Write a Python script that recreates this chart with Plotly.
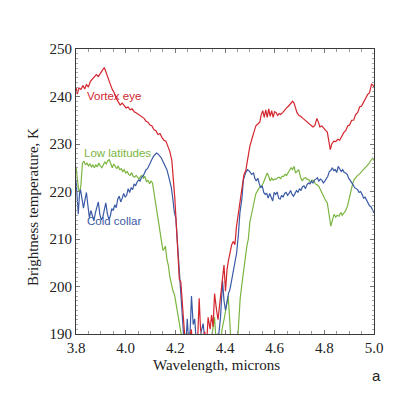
import plotly.graph_objects as go

# ---------------- data ----------------
vortex_x = [3.800, 3.805, 3.812, 3.820, 3.828, 3.835, 3.842, 3.850, 3.858, 3.866, 3.874, 3.882, 3.890, 3.898,
            3.906, 3.914, 3.922, 3.930, 3.938, 3.946, 3.954, 3.962, 3.970, 3.978, 3.986, 3.994, 4.002, 4.010,
            4.018, 4.026, 4.034, 4.042, 4.050, 4.058, 4.066, 4.074, 4.082, 4.090, 4.098, 4.106, 4.114, 4.122,
            4.130, 4.138, 4.146, 4.154, 4.162, 4.170, 4.178, 4.186, 4.192, 4.198, 4.204, 4.210, 4.216, 4.222,
            4.228, 4.234, 4.240, 4.248, 4.256, 4.264, 4.272, 4.280, 4.288, 4.296, 4.304, 4.312, 4.318, 4.326,
            4.332, 4.340, 4.346, 4.352, 4.358, 4.366, 4.372, 4.378, 4.384, 4.390, 4.396, 4.402, 4.408, 4.414,
            4.420, 4.427, 4.434, 4.440, 4.446, 4.452, 4.460, 4.468, 4.476, 4.484, 4.492, 4.500, 4.508, 4.516,
            4.524, 4.532, 4.540, 4.546, 4.552, 4.558, 4.564, 4.570, 4.576, 4.582, 4.588, 4.594, 4.600, 4.606,
            4.612, 4.618, 4.624, 4.632, 4.640, 4.648, 4.656, 4.664, 4.672, 4.678, 4.684, 4.690, 4.698, 4.706,
            4.714, 4.722, 4.730, 4.738, 4.746, 4.754, 4.762, 4.770, 4.776, 4.782, 4.790, 4.798, 4.806, 4.812,
            4.818, 4.824, 4.830, 4.838, 4.846, 4.854, 4.862, 4.870, 4.878, 4.886, 4.894, 4.902, 4.910, 4.918,
            4.926, 4.934, 4.942, 4.950, 4.958, 4.966, 4.974, 4.982, 4.990, 4.996, 5.000]
vortex_t = [242.0, 240.5, 241.8, 241.5, 242.3, 241.6, 242.5, 242.0, 243.2, 243.6, 244.0, 244.6, 244.2, 245.0,
            245.5, 246.1, 244.8, 243.5, 242.6, 241.5, 240.8, 239.6, 239.0, 238.2, 238.6, 238.2, 237.6, 237.8,
            237.2, 237.4, 236.8, 236.6, 236.3, 236.0, 235.8, 235.4, 234.8, 234.6, 234.0, 233.8, 233.0, 232.8,
            232.0, 232.2, 231.4, 230.8, 230.6, 229.6, 228.4, 226.5, 223.0, 218.5, 213.0, 207.0, 201.5, 201.0,
            195.5, 192.0, 188.0, 186.5, 188.0, 191.0, 187.0, 189.0, 186.0, 197.5, 188.0, 186.0, 190.5, 188.0,
            193.5, 191.0, 194.0, 191.5, 198.5, 195.0, 193.0, 196.0, 199.0, 202.5, 204.5, 199.0, 203.5, 205.5,
            207.0, 208.8, 209.5, 208.8, 212.5, 214.8, 218.5, 220.5, 223.5, 224.5, 227.5, 229.5, 231.0, 232.5,
            233.8, 234.2, 234.6, 236.2, 237.0, 235.6, 237.2, 235.6, 237.4, 235.8, 237.0, 235.6, 236.8, 236.6,
            236.0, 236.4, 236.2, 236.6, 237.2, 237.6, 238.0, 238.4, 239.0, 238.6, 237.8, 236.6, 236.0, 235.8,
            235.4, 235.0, 234.8, 234.2, 234.0, 233.6, 233.9, 235.4, 234.6, 233.6, 233.8, 233.2, 232.8, 232.5,
            230.5, 228.8, 230.0, 230.6, 230.5, 231.0, 230.8, 231.8, 232.4, 232.8, 233.8, 234.0, 235.0, 235.0,
            236.2, 236.6, 237.8, 238.0, 238.8, 239.6, 240.4, 240.8, 242.6, 242.4, 241.8]

collar_x = [3.800, 3.805, 3.809, 3.814, 3.818, 3.824, 3.830, 3.836, 3.842, 3.848, 3.854, 3.860, 3.866, 3.872,
            3.878, 3.884, 3.890, 3.896, 3.902, 3.908, 3.914, 3.920, 3.926, 3.932, 3.938, 3.944, 3.950, 3.956,
            3.962, 3.968, 3.974, 3.980, 3.986, 3.992, 3.998, 4.004, 4.010, 4.016, 4.022, 4.028, 4.034, 4.040,
            4.046, 4.052, 4.058, 4.064, 4.070, 4.076, 4.082, 4.088, 4.094, 4.100, 4.106, 4.112, 4.118, 4.124,
            4.130, 4.136, 4.142, 4.148, 4.154, 4.160, 4.166, 4.172, 4.178, 4.184, 4.190, 4.196, 4.202, 4.208,
            4.214, 4.220, 4.226, 4.232, 4.238, 4.244, 4.248, 4.254, 4.260, 4.265, 4.272, 4.278, 4.284, 4.290,
            4.296, 4.304, 4.312, 4.318, 4.326, 4.334, 4.342, 4.350, 4.358, 4.366, 4.374, 4.382, 4.390, 4.396,
            4.402, 4.408, 4.414, 4.420, 4.427, 4.434, 4.440, 4.447, 4.454, 4.460, 4.468, 4.474, 4.482, 4.490,
            4.496, 4.502, 4.508, 4.515, 4.520, 4.526, 4.532, 4.538, 4.544, 4.550, 4.556, 4.562, 4.568, 4.574,
            4.580, 4.586, 4.592, 4.598, 4.604, 4.610, 4.616, 4.622, 4.628, 4.634, 4.640, 4.646, 4.652, 4.658,
            4.664, 4.670, 4.676, 4.682, 4.688, 4.694, 4.700, 4.706, 4.712, 4.718, 4.724, 4.730, 4.736, 4.742,
            4.748, 4.754, 4.760, 4.766, 4.772, 4.778, 4.784, 4.790, 4.796, 4.802, 4.808, 4.814, 4.820, 4.826,
            4.832, 4.838, 4.844, 4.850, 4.856, 4.862, 4.868, 4.874, 4.880, 4.886, 4.892, 4.898, 4.904, 4.910,
            4.916, 4.922, 4.928, 4.934, 4.940, 4.946, 4.952, 4.958, 4.964, 4.970, 4.976, 4.982, 4.988, 4.994,
            5.000]
collar_t = [222.5, 218.0, 215.2, 219.5, 220.4, 218.5, 216.5, 218.2, 219.8, 217.0, 214.5, 216.0, 215.0, 213.8,
            215.5, 216.8, 217.8, 215.2, 214.0, 214.6, 216.5, 217.6, 215.4, 214.2, 214.8, 216.4, 216.0, 217.2,
            216.6, 218.4, 219.0, 217.8, 218.6, 219.6, 218.8, 219.2, 220.6, 219.8, 220.8, 220.4, 221.6, 221.2,
            222.0, 222.4, 222.2, 223.0, 223.2, 224.0, 224.6, 224.8, 225.6, 226.2, 226.8, 227.4, 227.8, 228.1,
            227.9, 227.6, 227.2, 226.6, 226.0, 225.4, 224.6, 223.4, 222.0, 220.8, 218.4, 215.6, 214.4, 209.5,
            204.0, 198.5, 193.5, 188.5, 186.0, 189.0, 193.2, 188.0, 191.0, 198.0, 192.0, 193.2, 188.5, 189.5,
            187.0, 190.5, 192.2, 189.0, 186.0, 188.0, 187.5, 189.0, 188.0, 186.5, 189.5, 193.5, 201.2, 197.0,
            195.0, 197.2, 198.5, 199.4, 201.5, 203.0, 205.0, 207.1, 211.0, 215.5, 218.5, 222.4, 223.8, 224.6,
            224.4, 224.0, 223.6, 223.9, 222.8, 222.2, 222.8, 221.6, 220.8, 221.2, 219.8, 219.4, 219.6, 218.6,
            219.6, 218.8, 218.0, 219.8, 219.4, 219.9, 218.6, 218.4, 219.2, 218.8, 219.6, 219.8, 219.2, 219.6,
            220.2, 219.4, 219.0, 219.6, 220.2, 219.8, 220.6, 220.2, 221.0, 221.2, 220.6, 221.4, 221.8, 221.6,
            222.2, 221.8, 222.4, 222.6, 222.9, 222.2, 222.6, 222.4, 221.8, 222.2, 222.6, 223.2, 224.2, 224.4,
            225.0, 224.4, 224.6, 224.0, 225.3, 224.8, 224.2, 224.6, 224.0, 223.9, 223.6, 222.8, 222.4, 221.8,
            221.4, 220.8, 220.6, 220.4, 219.8, 220.0, 219.4, 218.6, 218.8, 218.3, 217.6, 217.0, 216.8, 216.0,
            215.5]

lowlat_x = [3.800, 3.805, 3.810, 3.815, 3.820, 3.826, 3.832, 3.838, 3.844, 3.850, 3.856, 3.862, 3.868, 3.874,
            3.880, 3.886, 3.892, 3.898, 3.904, 3.910, 3.916, 3.922, 3.928, 3.934, 3.940, 3.946, 3.952, 3.958,
            3.964, 3.970, 3.976, 3.982, 3.988, 3.994, 4.000, 4.006, 4.012, 4.018, 4.024, 4.030, 4.036, 4.042,
            4.048, 4.054, 4.060, 4.066, 4.072, 4.078, 4.084, 4.090, 4.096, 4.102, 4.108, 4.114, 4.120, 4.126,
            4.132, 4.138, 4.144, 4.150, 4.156, 4.160, 4.166, 4.172, 4.178, 4.184, 4.190, 4.197, 4.204, 4.211,
            4.218, 4.224, 4.230, 4.236, 4.242, 4.248, 4.254, 4.262, 4.270, 4.278, 4.286, 4.294, 4.302, 4.310,
            4.318, 4.326, 4.334, 4.342, 4.350, 4.358, 4.364, 4.372, 4.380, 4.388, 4.396, 4.404, 4.413, 4.420,
            4.426, 4.434, 4.442, 4.450, 4.456, 4.461, 4.468, 4.474, 4.480, 4.488, 4.494, 4.500, 4.506, 4.512,
            4.518, 4.524, 4.530, 4.536, 4.542, 4.548, 4.554, 4.560, 4.566, 4.570, 4.576, 4.582, 4.588, 4.594,
            4.600, 4.606, 4.612, 4.618, 4.624, 4.630, 4.636, 4.642, 4.648, 4.654, 4.660, 4.666, 4.672, 4.678,
            4.684, 4.690, 4.697, 4.704, 4.711, 4.718, 4.724, 4.731, 4.738, 4.744, 4.750, 4.758, 4.764, 4.770,
            4.778, 4.784, 4.792, 4.798, 4.804, 4.812, 4.818, 4.822, 4.826, 4.832, 4.839, 4.846, 4.852, 4.859,
            4.866, 4.872, 4.880, 4.886, 4.893, 4.900, 4.907, 4.914, 4.920, 4.927, 4.934, 4.940, 4.947, 4.954,
            4.961, 4.968, 4.975, 4.981, 4.988, 4.995, 5.000]
lowlat_t = [225.3, 223.0, 220.5, 219.8, 221.5, 226.0, 226.4, 225.6, 226.0, 225.4, 225.8, 225.2, 225.6, 225.0,
            225.6, 225.2, 226.0, 225.4, 225.0, 225.6, 226.2, 225.8, 226.5, 226.7, 225.6, 225.0, 225.8, 225.2,
            224.8, 225.4, 224.6, 224.8, 224.2, 224.6, 223.9, 224.2, 223.6, 223.4, 224.0, 223.2, 223.0, 223.4,
            223.0, 222.6, 223.2, 223.4, 222.8, 223.2, 222.0, 222.4, 221.6, 222.2, 221.8, 219.8, 217.4, 215.4,
            213.0, 211.0, 209.8, 207.6, 208.0, 208.5, 205.8, 204.4, 202.0, 200.5, 199.2, 198.2, 196.0, 193.8,
            191.6, 189.5, 188.0, 190.8, 188.0, 190.4, 187.5, 189.2, 186.5, 188.5, 187.0, 189.8, 187.0, 188.4,
            186.0, 187.5, 189.5, 188.0, 190.5, 193.5, 188.5, 190.2, 187.0, 191.0, 193.0, 195.5, 198.0, 192.0,
            186.0, 185.0, 185.5, 188.0, 193.0, 197.4, 200.5, 203.0, 205.0, 208.5, 210.0, 213.5, 215.0, 217.0,
            218.0, 219.5, 220.2, 220.6, 221.0, 221.2, 221.8, 222.6, 223.2, 223.9, 223.2, 222.2, 222.8, 222.4,
            222.6, 222.6, 222.9, 223.0, 222.7, 223.2, 223.2, 223.6, 223.4, 223.9, 224.6, 225.0, 224.6, 225.3,
            223.9, 224.2, 224.6, 223.0, 222.2, 222.8, 222.9, 222.6, 222.5, 221.8, 222.4, 222.2, 221.6, 221.4,
            221.1, 220.4, 219.4, 218.8, 218.2, 217.6, 216.0, 214.2, 212.7, 214.0, 215.2, 214.6, 215.0, 214.8,
            215.6, 215.0, 215.5, 216.0, 216.9, 218.6, 220.4, 221.6, 222.5, 223.0, 223.4, 223.6, 224.0, 224.4,
            224.6, 225.2, 225.6, 226.0, 226.6, 227.1, 226.5]

x_ticks = [3.8, 4.0, 4.2, 4.4, 4.6, 4.8, 5.0]
x_tick_labels = ["3.8", "4.0", "4.2", "4.4", "4.6", "4.8", "5.0"]
y_ticks = [190, 200, 210, 220, 230, 240, 250]

series_names = ["Vortex eye", "Low latitudes", "Cold collar"]
RED, GREEN, BLUE = "#d3262e", "#7bb540", "#3a5aa6"

# ---------------- figure ----------------
fig = go.Figure()
fig.add_trace(go.Scatter(x=lowlat_x, y=lowlat_t, mode="lines", name=series_names[1],
                         line=dict(color=GREEN, width=1.2)))
fig.add_trace(go.Scatter(x=collar_x, y=collar_t, mode="lines", name=series_names[2],
                         line=dict(color=BLUE, width=1.2)))
fig.add_trace(go.Scatter(x=vortex_x, y=vortex_t, mode="lines", name=series_names[0],
                         line=dict(color=RED, width=1.2)))

serif = "Liberation Serif, Times New Roman, serif"
sans = "Liberation Sans, Arial, sans-serif"

axis_common = dict(showline=True, linecolor="#3a3a3a", linewidth=1.2, mirror="ticks",
                   ticks="inside", tickcolor="#777", ticklen=4, showgrid=False, zeroline=False,
                   tickfont=dict(family=serif, size=15, color="#222"))

fig.update_xaxes(range=[3.8, 5.0], tickvals=x_ticks, ticktext=x_tick_labels,
                 minor=dict(dtick=0.05, ticks="inside", ticklen=2.5, tickcolor="#999"),
                 **axis_common)
fig.update_yaxes(range=[190, 250], tickvals=y_ticks,
                 minor=dict(dtick=1, ticks="inside", ticklen=2, tickcolor="#aaa"),
                 **axis_common)

annotations = [
    dict(x=3.838, y=240.1, text=series_names[0], font=dict(color=RED, size=11.5, family=sans)),
    dict(x=3.826, y=228.2, text=series_names[1], font=dict(color=GREEN, size=11.5, family=sans)),
    dict(x=3.835, y=213.8, text=series_names[2], font=dict(color=BLUE, size=11.5, family=sans)),
]
for a in annotations:
    fig.add_annotation(xref="x", yref="y", xanchor="left", yanchor="middle", showarrow=False, **a)

fig.add_annotation(xref="paper", yref="paper", x=0.47, y=-0.109, text="Wavelength, microns",
                   showarrow=False, xanchor="center", yanchor="middle",
                   font=dict(family=serif, size=15, color="#222"))
fig.add_annotation(xref="paper", yref="paper", x=-0.144, y=0.446, text="Brightness temperature, K",
                   showarrow=False, xanchor="center", yanchor="middle", textangle=-90,
                   font=dict(family=serif, size=15, color="#222"))
fig.add_annotation(xref="paper", yref="paper", x=1.01, y=-0.144, text="a",
                   showarrow=False, xanchor="center", yanchor="middle",
                   font=dict(family=sans, size=15, color="#222"))

# page body adds an 8px margin, so the figure is 8px smaller and offset accordingly
fig.update_layout(width=389, height=389, margin=dict(l=68, r=23, t=41, b=63),
                  paper_bgcolor="white", plot_bgcolor="white", showlegend=False)

fig.write_html("out.html")
